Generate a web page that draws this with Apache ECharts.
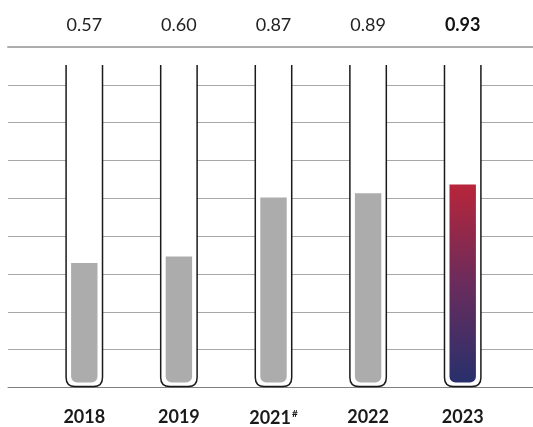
<!DOCTYPE html>
<html><head><meta charset="utf-8">
<script src="https://cdn.jsdelivr.net/npm/echarts@6/dist/echarts.min.js"></script>
<style>html,body{margin:0;padding:0;background:#fff}#c{width:533px;height:427px}</style>
</head><body><div id="c"></div>
<script>
const categories = ['2018', '2019', '2021#', '2022', '2023'];
const values = [0.57, 0.60, 0.87, 0.89, 0.93];
const valueLabels = ['0.57', '0.60', '0.87', '0.89', '0.93'];
const gridLineCount = 9;

const chart = echarts.init(document.getElementById('c'), null, {renderer: 'canvas'});
const last = values.length - 1;
const FONT = 'Lato';

chart.setOption({
  animation: false,
  grid: [
    {left: 8, right: 0, top: 47, bottom: 39.5},
    {left: 37, right: 23, top: 47, bottom: 39.5}
  ],
  xAxis: [
    {gridIndex: 0, type: 'value', min: 0, max: 1, position: 'bottom',
     axisLine: {show: true, lineStyle: {color: '#808080', width: 1}},
     axisTick: {show: false}, axisLabel: {show: false}, splitLine: {show: false}},
    {gridIndex: 1, type: 'category', data: categories, position: 'bottom',
     axisLine: {show: false}, axisTick: {show: false},
     axisLabel: {interval: 0, margin: 21, color: '#1a1a1a', fontFamily: FONT, fontSize: 18, fontWeight: 'bold',
       formatter: function (v) {
         if (v.indexOf('#') >= 0) return v.replace('#', '') + '{sup|#}';
         return v;
       },
       rich: {sup: {fontSize: 10, fontWeight: 'bold', color: '#1a1a1a', fontFamily: FONT, verticalAlign: 'top', padding: [0, 0, 9, 1]}}
     }},
    {gridIndex: 1, type: 'category', data: valueLabels, position: 'top',
     axisLine: {show: false}, axisTick: {show: false},
     axisLabel: {interval: 0, margin: 13, color: '#222', fontFamily: FONT, fontSize: 18,
       formatter: function (v, i) { return i === last ? '{b|' + v + '}' : v; },
       rich: {b: {fontWeight: 'bold', fontSize: 18, color: '#111', fontFamily: FONT}}
     }},
    {gridIndex: 0, type: 'value', min: 0, max: 1, position: 'top',
     axisLine: {show: true, lineStyle: {color: '#adadad', width: 2}},
     axisTick: {show: false}, axisLabel: {show: false}, splitLine: {show: false}}
  ],
  yAxis: [
    {gridIndex: 0, type: 'value', min: 0, max: gridLineCount, interval: 1,
     axisLine: {show: false}, axisTick: {show: false}, axisLabel: {show: false},
     splitLine: {show: true, lineStyle: {color: '#a8a8a8', width: 1}}},
    {gridIndex: 1, type: 'value', min: 0, max: 1.56, show: false}
  ],
  series: [{
    type: 'custom',
    xAxisIndex: 1, yAxisIndex: 1,
    data: values.map((v, i) => [i, v]),
    renderItem: function (params, api) {
      const i = api.value(0), v = api.value(1);
      const base = api.coord([i, 0]);
      const topPt = api.coord([i, v]);
      const band = api.size([1, 0])[0];
      const cs = params.coordSys;
      const w = band * 0.385;
      const xl = base[0] - w / 2, xr = base[0] + w / 2;
      const yB = base[1] - 1;
      const yT = cs.y + 18;
      const r = 9;
      const path = 'M' + xl + ',' + yT + ' L' + xl + ',' + (yB - r) +
        ' Q' + xl + ',' + yB + ' ' + (xl + r) + ',' + yB +
        ' L' + (xr - r) + ',' + yB +
        ' Q' + xr + ',' + yB + ' ' + xr + ',' + (yB - r) +
        ' L' + xr + ',' + yT;
      const pad = 5;
      const fill = i === last ? new echarts.graphic.LinearGradient(0, 0, 0, 1, [
        {offset: 0, color: '#b8253a'}, {offset: 0.5, color: '#6a2c5c'}, {offset: 1, color: '#28306c'}
      ]) : '#abacab';
      return {
        type: 'group',
        children: [
          {type: 'path', shape: {pathData: path},
           style: {fill: '#fff', stroke: '#1a1a1a', lineWidth: 1.5}},
          {type: 'rect', shape: {x: xl + pad, y: topPt[1], width: w - 2 * pad, height: (yB - pad + 1) - topPt[1], r: [0, 0, 6, 6]},
           style: {fill: fill}}
        ]
      };
    }
  }]
});
</script></body></html>
